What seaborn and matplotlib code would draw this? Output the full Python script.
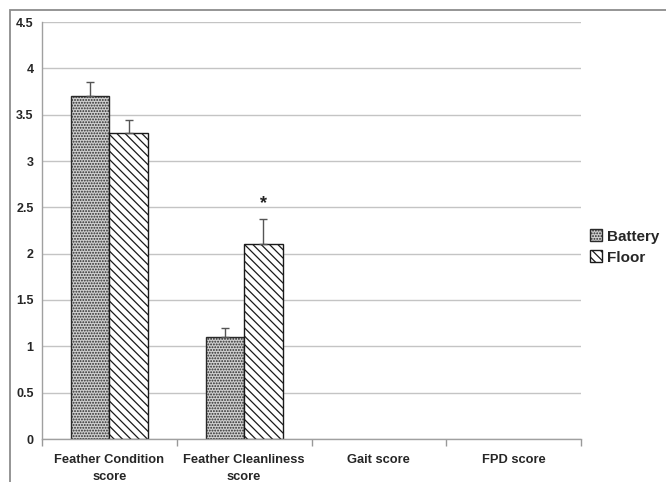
import pandas as pd
import numpy as np
import matplotlib
matplotlib.use("Agg")
import matplotlib.pyplot as plt
from matplotlib.patches import Rectangle, Patch
import seaborn as sns

# values
categories = ["Feather Condition\nscore", "Feather Cleanliness\nscore", "Gait score", "FPD score"]
measured = ["Feather Condition\nscore", "Feather Cleanliness\nscore"]
battery_mean = [3.7, 1.1]
floor_mean = [3.3, 2.1]
battery_err = [0.15, 0.10]
floor_err = [0.14, 0.27]
yticks = [0, 0.5, 1, 1.5, 2, 2.5, 3, 3.5, 4, 4.5]
ytick_labels = ["0", "0.5", "1", "1.5", "2", "2.5", "3", "3.5", "4", "4.5"]

df = pd.DataFrame({
    "category": measured * 2,
    "housing": ["Battery"] * len(measured) + ["Floor"] * len(measured),
    "score": battery_mean + floor_mean,
    "err": battery_err + floor_err,
})

sns.set_style("white")
plt.rcParams["font.family"] = ["Liberation Sans", "DejaVu Sans"]
plt.rcParams["font.weight"] = "bold"
plt.rcParams["hatch.linewidth"] = 0.9

styles = {
    "Battery": dict(facecolor="#cfcfcf", hatch="......", edgecolor="#2a2a2a"),
    "Floor": dict(facecolor="white", hatch="\\\\\\\\", edgecolor="#1a1a1a"),
}

fig = plt.figure(figsize=(6.66, 4.82), dpi=100)
ax = fig.add_axes([42 / 666, 1 - 439 / 482, (581 - 42) / 666, (439 - 22) / 482])

sns.barplot(data=df, x="category", y="score", hue="housing", order=categories,
            hue_order=["Battery", "Floor"], width=0.57, errorbar=None,
            legend=False, ax=ax)

# style the bars and add one-sided error bars
for container, level in zip(ax.containers, ["Battery", "Floor"]):
    sub = df[df["housing"] == level].set_index("category")
    for patch in container:
        patch.set_facecolor(styles[level]["facecolor"])
        patch.set_hatch(styles[level]["hatch"])
        patch.set_edgecolor(styles[level]["edgecolor"])
        patch.set_linewidth(1.0)
        xc = patch.get_x() + patch.get_width() / 2
        cat = categories[int(round(xc))]
        if cat in sub.index:
            top = sub.loc[cat, "score"]
            ax.errorbar(xc, top, yerr=[[0], [sub.loc[cat, "err"]]], fmt="none",
                        ecolor="#555555", elinewidth=1.0, capsize=3, capthick=1.0, zorder=1)
            if level == "Floor" and cat == measured[1]:
                ax.text(xc, top + sub.loc[cat, "err"] + 0.08, "*", ha="center", va="bottom",
                        fontsize=13, fontweight="bold", color="#222222")

ax.set_ylim(0, 4.5)
ax.set_xlim(-0.5, len(categories) - 0.5)
ax.set_yticks(yticks)
ax.set_yticklabels(ytick_labels, fontsize=9, fontweight="bold")
ax.set_xticks(range(len(categories)))
ax.set_xticklabels(categories, fontsize=9.3, fontweight="bold", linespacing=1.55)
ax.set_xticks(np.arange(-0.5, len(categories), 1), minor=True)
ax.tick_params(axis="x", which="major", length=0, pad=11)
ax.tick_params(axis="x", which="minor", length=5, color="#999999", width=1, bottom=True)
ax.tick_params(axis="y", length=0, pad=6)
ax.set_xlabel("")
ax.set_ylabel("")

ax.yaxis.grid(True, color="#c4c4c4", linewidth=1.0)
ax.set_axisbelow(True)
for side in ["top", "right"]:
    ax.spines[side].set_visible(False)
for side in ["left", "bottom"]:
    ax.spines[side].set_color("#a0a0a0")
    ax.spines[side].set_linewidth(1.0)

handles = [Patch(label=k, linewidth=1.0, **v) for k, v in styles.items()]
fig.legend(handles=handles, loc="center left", bbox_to_anchor=(576 / 666, 1 - 247 / 482),
           frameon=False, prop=dict(size=11, weight="bold"), handlelength=0.8,
           handleheight=0.8, handletextpad=0.3, labelspacing=0.45)

# outer frame around the chart area
fig.add_artist(Rectangle((10 / 666, -0.1), 1.2, 1.1 - 10 / 482, fill=False,
                         edgecolor="#8c8c8c", linewidth=1.3, transform=fig.transFigure))

fig.savefig("out.png", dpi=100)
